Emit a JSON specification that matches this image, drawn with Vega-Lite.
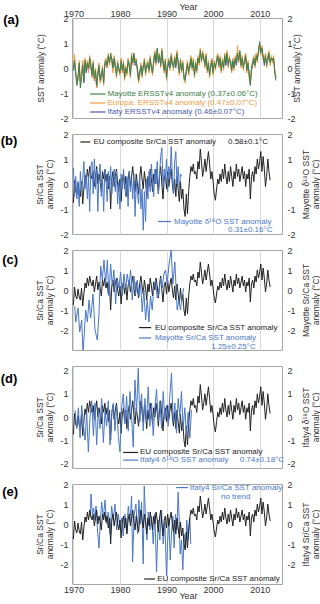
{
"$schema":"https://vega.github.io/schema/vega-lite/v6.json",
"padding":{"left":0,"top":1,"right":0,"bottom":0},
"background":"white",
"spacing":16,
"bounds":"flush",
"datasets":{
"ersst":[
{"t":1970,"m":-0.1,"e":0.1,"i":0.0},{"t":1970.25,"m":0.3,"e":0.55,"i":0.2},{"t":1970.5,"m":-0.2,"e":-0.1,"i":-0.3},{"t":1970.75,"m":-0.7,"e":-0.6,"i":-0.5},
{"t":1971,"m":-0.3,"e":-0.5,"i":-0.4},{"t":1971.25,"m":0.2,"e":0.3,"i":0.1},{"t":1971.5,"m":-0.8,"e":-0.7,"i":-0.6},{"t":1971.75,"m":-0.4,"e":-0.2,"i":-0.3},
{"t":1972,"m":0.1,"e":0.3,"i":0.2},{"t":1972.25,"m":-0.5,"e":-0.4,"i":-0.6},{"t":1972.5,"m":0.3,"e":0.4,"i":0.2},{"t":1972.75,"m":-0.1,"e":0.0,"i":-0.2},
{"t":1973,"m":0.2,"e":0.3,"i":0.1},{"t":1973.25,"m":0.0,"e":-0.2,"i":-0.1},{"t":1973.5,"m":0.4,"e":0.5,"i":0.3},{"t":1973.75,"m":0.1,"e":0.2,"i":0.0},
{"t":1974,"m":-0.3,"e":-0.4,"i":-0.2},{"t":1974.25,"m":0.2,"e":0.3,"i":0.1},{"t":1974.5,"m":-0.4,"e":-0.5,"i":-0.5},{"t":1974.75,"m":-0.1,"e":0.0,"i":-0.2},
{"t":1975,"m":-0.7,"e":-0.8,"i":-0.8},{"t":1975.25,"m":-0.2,"e":-0.1,"i":-0.3},{"t":1975.5,"m":0.1,"e":0.2,"i":0.0},{"t":1975.75,"m":-0.5,"e":-0.6,"i":-0.4},
{"t":1976,"m":-0.3,"e":-0.5,"i":-0.2},{"t":1976.25,"m":0.0,"e":0.1,"i":-0.1},{"t":1976.5,"m":-0.6,"e":-0.7,"i":-0.5},{"t":1976.75,"m":0.2,"e":0.3,"i":0.1},
{"t":1977,"m":0.3,"e":0.4,"i":0.2},{"t":1977.25,"m":0.1,"e":0.0,"i":0.0},{"t":1977.5,"m":0.5,"e":0.6,"i":0.4},{"t":1977.75,"m":0.2,"e":0.1,"i":0.3},
{"t":1978,"m":0.6,"e":0.5,"i":0.5},{"t":1978.25,"m":0.3,"e":0.2,"i":0.4},{"t":1978.5,"m":0.0,"e":-0.2,"i":0.1},{"t":1978.75,"m":0.4,"e":0.5,"i":0.3},
{"t":1979,"m":0.1,"e":0.2,"i":0.0},{"t":1979.25,"m":-0.3,"e":-0.4,"i":-0.2},{"t":1979.5,"m":0.2,"e":0.3,"i":0.1},{"t":1979.75,"m":0.0,"e":-0.1,"i":-0.1},
{"t":1980,"m":-0.2,"e":-0.3,"i":-0.1},{"t":1980.25,"m":0.3,"e":0.4,"i":0.2},{"t":1980.5,"m":-0.1,"e":-0.2,"i":0.0},{"t":1980.75,"m":0.2,"e":0.3,"i":0.1},
{"t":1981,"m":-0.4,"e":-0.5,"i":-0.3},{"t":1981.25,"m":0.0,"e":0.1,"i":-0.1},{"t":1981.5,"m":-0.2,"e":-0.3,"i":-0.1},{"t":1981.75,"m":0.3,"e":0.4,"i":0.2},
{"t":1982,"m":0.1,"e":0.0,"i":0.2},{"t":1982.25,"m":-0.3,"e":-0.4,"i":-0.2},{"t":1982.5,"m":0.5,"e":0.6,"i":0.4},{"t":1982.75,"m":0.2,"e":0.1,"i":0.3},
{"t":1983,"m":0.6,"e":0.5,"i":0.5},{"t":1983.25,"m":0.2,"e":0.3,"i":0.1},{"t":1983.5,"m":0.3,"e":0.4,"i":0.2},{"t":1983.75,"m":-0.1,"e":-0.2,"i":0.0},
{"t":1984,"m":-0.5,"e":-0.6,"i":-0.4},{"t":1984.25,"m":-0.2,"e":-0.3,"i":-0.1},{"t":1984.5,"m":0.1,"e":0.2,"i":0.0},{"t":1984.75,"m":-0.3,"e":-0.4,"i":-0.2},
{"t":1985,"m":0.0,"e":0.1,"i":0.1},{"t":1985.25,"m":0.3,"e":0.4,"i":0.2},{"t":1985.5,"m":-0.2,"e":-0.3,"i":-0.1},{"t":1985.75,"m":0.1,"e":0.2,"i":0.0},
{"t":1986,"m":0.2,"e":0.3,"i":0.1},{"t":1986.25,"m":-0.1,"e":-0.2,"i":0.0},{"t":1986.5,"m":0.4,"e":0.5,"i":0.3},{"t":1986.75,"m":0.0,"e":-0.1,"i":0.1},
{"t":1987,"m":-0.2,"e":-0.3,"i":-0.1},{"t":1987.25,"m":0.3,"e":0.4,"i":0.2},{"t":1987.5,"m":0.6,"e":0.7,"i":0.5},{"t":1987.75,"m":0.2,"e":0.1,"i":0.3},
{"t":1988,"m":0.8,"e":0.7,"i":0.7},{"t":1988.25,"m":0.3,"e":0.4,"i":0.2},{"t":1988.5,"m":0.5,"e":0.6,"i":0.4},{"t":1988.75,"m":0.1,"e":0.0,"i":0.2},
{"t":1989,"m":0.7,"e":0.8,"i":0.6},{"t":1989.25,"m":0.2,"e":0.1,"i":0.3},{"t":1989.5,"m":-0.1,"e":-0.2,"i":0.0},{"t":1989.75,"m":0.3,"e":0.4,"i":0.2},
{"t":1990,"m":-0.4,"e":-0.5,"i":-0.3},{"t":1990.25,"m":0.1,"e":0.2,"i":0.0},{"t":1990.5,"m":0.3,"e":0.4,"i":0.2},{"t":1990.75,"m":0.0,"e":-0.1,"i":0.1},
{"t":1991,"m":0.5,"e":0.6,"i":0.4},{"t":1991.25,"m":0.2,"e":0.3,"i":0.1},{"t":1991.5,"m":0.0,"e":-0.1,"i":0.1},{"t":1991.75,"m":0.4,"e":0.5,"i":0.3},
{"t":1992,"m":0.1,"e":0.2,"i":0.0},{"t":1992.25,"m":0.6,"e":0.7,"i":0.5},{"t":1992.5,"m":0.2,"e":0.1,"i":0.3},{"t":1992.75,"m":-0.2,"e":-0.3,"i":-0.1},
{"t":1993,"m":0.3,"e":0.4,"i":0.2},{"t":1993.25,"m":-0.1,"e":-0.2,"i":0.0},{"t":1993.5,"m":0.2,"e":0.3,"i":0.1},{"t":1993.75,"m":-0.4,"e":-0.5,"i":-0.3},
{"t":1994,"m":-0.5,"e":-0.6,"i":-0.4},{"t":1994.25,"m":-0.1,"e":0.0,"i":-0.2},{"t":1994.5,"m":0.2,"e":0.3,"i":0.1},{"t":1994.75,"m":-0.2,"e":-0.3,"i":-0.1},
{"t":1995,"m":0.1,"e":0.2,"i":0.0},{"t":1995.25,"m":0.4,"e":0.5,"i":0.3},{"t":1995.5,"m":0.0,"e":-0.1,"i":0.1},{"t":1995.75,"m":0.3,"e":0.4,"i":0.2},
{"t":1996,"m":-0.3,"e":-0.4,"i":-0.2},{"t":1996.25,"m":0.2,"e":0.3,"i":0.1},{"t":1996.5,"m":-0.1,"e":-0.2,"i":0.0},{"t":1996.75,"m":0.4,"e":0.5,"i":0.3},
{"t":1997,"m":0.2,"e":0.1,"i":0.3},{"t":1997.25,"m":0.7,"e":0.8,"i":0.6},{"t":1997.5,"m":0.3,"e":0.2,"i":0.4},{"t":1997.75,"m":0.6,"e":0.7,"i":0.5},
{"t":1998,"m":0.4,"e":0.5,"i":0.3},{"t":1998.25,"m":0.1,"e":0.0,"i":0.2},{"t":1998.5,"m":0.5,"e":0.6,"i":0.4},{"t":1998.75,"m":-0.1,"e":-0.2,"i":0.0},
{"t":1999,"m":0.2,"e":0.3,"i":0.1},{"t":1999.25,"m":-0.3,"e":-0.4,"i":-0.2},{"t":1999.5,"m":0.1,"e":0.2,"i":0.0},{"t":1999.75,"m":0.3,"e":0.4,"i":0.2},
{"t":2000,"m":-0.2,"e":-0.3,"i":-0.1},{"t":2000.25,"m":0.2,"e":0.3,"i":0.1},{"t":2000.5,"m":0.0,"e":-0.1,"i":0.1},{"t":2000.75,"m":0.3,"e":0.4,"i":0.2},
{"t":2001,"m":0.5,"e":0.6,"i":0.4},{"t":2001.25,"m":0.1,"e":0.0,"i":0.2},{"t":2001.5,"m":0.4,"e":0.5,"i":0.3},{"t":2001.75,"m":-0.1,"e":-0.2,"i":0.0},
{"t":2002,"m":0.3,"e":0.4,"i":0.2},{"t":2002.25,"m":0.0,"e":-0.1,"i":0.1},{"t":2002.5,"m":0.5,"e":0.6,"i":0.4},{"t":2002.75,"m":0.2,"e":0.3,"i":0.1},
{"t":2003,"m":0.6,"e":0.7,"i":0.5},{"t":2003.25,"m":0.1,"e":0.0,"i":0.2},{"t":2003.5,"m":0.4,"e":0.5,"i":0.3},{"t":2003.75,"m":0.2,"e":0.1,"i":0.3},
{"t":2004,"m":-0.1,"e":-0.2,"i":0.0},{"t":2004.25,"m":0.3,"e":0.4,"i":0.2},{"t":2004.5,"m":0.0,"e":-0.1,"i":0.1},{"t":2004.75,"m":0.4,"e":0.5,"i":0.3},
{"t":2005,"m":0.2,"e":0.3,"i":0.1},{"t":2005.25,"m":0.6,"e":0.9,"i":0.5},{"t":2005.5,"m":0.3,"e":0.2,"i":0.4},{"t":2005.75,"m":0.7,"e":0.6,"i":0.6},
{"t":2006,"m":0.1,"e":0.0,"i":0.2},{"t":2006.25,"m":0.4,"e":0.5,"i":0.3},{"t":2006.5,"m":0.0,"e":-0.1,"i":0.1},{"t":2006.75,"m":0.3,"e":0.4,"i":0.2},
{"t":2007,"m":0.5,"e":0.6,"i":0.4},{"t":2007.25,"m":-0.1,"e":-0.2,"i":0.0},{"t":2007.5,"m":0.2,"e":0.3,"i":0.1},{"t":2007.75,"m":-0.3,"e":-0.4,"i":-0.2},
{"t":2008,"m":-0.7,"e":-0.6,"i":-0.6},{"t":2008.25,"m":0.0,"e":0.1,"i":-0.1},{"t":2008.5,"m":0.2,"e":0.3,"i":0.1},{"t":2008.75,"m":0.4,"e":0.5,"i":0.3},
{"t":2009,"m":0.1,"e":0.0,"i":0.2},{"t":2009.25,"m":0.5,"e":0.6,"i":0.4},{"t":2009.5,"m":0.3,"e":0.2,"i":0.4},{"t":2009.75,"m":0.7,"e":0.8,"i":0.6},
{"t":2010,"m":1.05,"e":0.95,"i":0.9},{"t":2010.25,"m":0.6,"e":0.5,"i":0.7},{"t":2010.5,"m":0.8,"e":0.9,"i":0.7},{"t":2010.75,"m":0.4,"e":0.3,"i":0.5},
{"t":2011,"m":0.2,"e":0.3,"i":0.1},{"t":2011.25,"m":0.5,"e":0.6,"i":0.4},{"t":2011.5,"m":0.1,"e":0.0,"i":0.2},{"t":2011.75,"m":0.4,"e":0.5,"i":0.3},
{"t":2012,"m":0.6,"e":0.7,"i":0.5},{"t":2012.25,"m":0.2,"e":0.1,"i":0.3},{"t":2012.5,"m":0.4,"e":0.5,"i":0.3},{"t":2012.75,"m":0.3,"e":0.2,"i":0.4},
{"t":2013,"m":0.4,"e":0.5,"i":0.3},{"t":2013.25,"m":-0.2,"e":-0.1,"i":-0.1},{"t":2013.5,"m":-0.5,"e":-0.3,"i":-0.4}
],
"eu":[
{"t":1970,"v":-0.75},{"t":1970.25,"v":0.15},{"t":1970.5,"v":-0.3},{"t":1970.75,"v":-0.45},
{"t":1971,"v":0.05},{"t":1971.25,"v":-0.35},{"t":1971.5,"v":-0.5},{"t":1971.75,"v":0.1},
{"t":1972,"v":-0.8},{"t":1972.25,"v":-0.2},{"t":1972.5,"v":0.35},{"t":1972.75,"v":0.1},
{"t":1973,"v":0.6},{"t":1973.25,"v":0.2},{"t":1973.5,"v":0.7},{"t":1973.75,"v":0.4},
{"t":1974,"v":0.2},{"t":1974.25,"v":0.5},{"t":1974.5,"v":-0.1},{"t":1974.75,"v":0.3},
{"t":1975,"v":0.7},{"t":1975.25,"v":0.0},{"t":1975.5,"v":0.4},{"t":1975.75,"v":0.1},
{"t":1976,"v":-0.3},{"t":1976.25,"v":0.5},{"t":1976.5,"v":0.2},{"t":1976.75,"v":0.6},
{"t":1977,"v":0.1},{"t":1977.25,"v":0.4},{"t":1977.5,"v":-0.2},{"t":1977.75,"v":0.3},
{"t":1978,"v":-1.0},{"t":1978.25,"v":0.2},{"t":1978.5,"v":0.5},{"t":1978.75,"v":-0.1},
{"t":1979,"v":0.3},{"t":1979.25,"v":0.6},{"t":1979.5,"v":0.0},{"t":1979.75,"v":-0.3},
{"t":1980,"v":0.2},{"t":1980.25,"v":-0.7},{"t":1980.5,"v":0.1},{"t":1980.75,"v":0.4},
{"t":1981,"v":-0.2},{"t":1981.25,"v":0.3},{"t":1981.5,"v":-0.5},{"t":1981.75,"v":0.2},
{"t":1982,"v":0.5},{"t":1982.25,"v":-0.1},{"t":1982.5,"v":0.3},{"t":1982.75,"v":0.7},
{"t":1983,"v":0.1},{"t":1983.25,"v":-0.3},{"t":1983.5,"v":0.4},{"t":1983.75,"v":0.0},
{"t":1984,"v":-0.4},{"t":1984.25,"v":0.3},{"t":1984.5,"v":0.7},{"t":1984.75,"v":0.2},
{"t":1985,"v":-0.2},{"t":1985.25,"v":0.5},{"t":1985.5,"v":0.1},{"t":1985.75,"v":-0.5},
{"t":1986,"v":0.3},{"t":1986.25,"v":-0.1},{"t":1986.5,"v":0.6},{"t":1986.75,"v":0.2},
{"t":1987,"v":-0.3},{"t":1987.25,"v":0.4},{"t":1987.5,"v":0.0},{"t":1987.75,"v":0.6},
{"t":1988,"v":0.2},{"t":1988.25,"v":-0.4},{"t":1988.5,"v":0.3},{"t":1988.75,"v":0.7},
{"t":1989,"v":0.0},{"t":1989.25,"v":-0.6},{"t":1989.5,"v":0.2},{"t":1989.75,"v":0.4},
{"t":1990,"v":-0.2},{"t":1990.25,"v":0.5},{"t":1990.5,"v":-0.1},{"t":1990.75,"v":0.3},
{"t":1991,"v":0.6},{"t":1991.25,"v":0.0},{"t":1991.5,"v":-0.4},{"t":1991.75,"v":0.2},
{"t":1992,"v":-0.5},{"t":1992.25,"v":0.3},{"t":1992.5,"v":-0.2},{"t":1992.75,"v":-0.7},
{"t":1993,"v":0.1},{"t":1993.25,"v":-0.6},{"t":1993.5,"v":-0.2},{"t":1993.75,"v":-1.0},
{"t":1994,"v":-1.3},{"t":1994.25,"v":-0.4},{"t":1994.5,"v":-1.2},{"t":1994.75,"v":-0.3},
{"t":1995,"v":0.3},{"t":1995.25,"v":0.7},{"t":1995.5,"v":0.5},{"t":1995.75,"v":0.8},
{"t":1996,"v":0.4},{"t":1996.25,"v":0.5},{"t":1996.5,"v":0.2},{"t":1996.75,"v":0.9},
{"t":1997,"v":0.6},{"t":1997.25,"v":1.4},{"t":1997.5,"v":0.9},{"t":1997.75,"v":0.3},
{"t":1998,"v":0.6},{"t":1998.25,"v":1.0},{"t":1998.5,"v":0.5},{"t":1998.75,"v":0.9},
{"t":1999,"v":1.3},{"t":1999.25,"v":0.8},{"t":1999.5,"v":0.2},{"t":1999.75,"v":0.5},
{"t":2000,"v":0.1},{"t":2000.25,"v":-0.4},{"t":2000.5,"v":-0.65},{"t":2000.75,"v":-0.2},
{"t":2001,"v":0.2},{"t":2001.25,"v":0.0},{"t":2001.5,"v":0.4},{"t":2001.75,"v":0.1},
{"t":2002,"v":0.6},{"t":2002.25,"v":0.2},{"t":2002.5,"v":0.8},{"t":2002.75,"v":0.3},
{"t":2003,"v":0.0},{"t":2003.25,"v":0.5},{"t":2003.5,"v":0.1},{"t":2003.75,"v":0.7},
{"t":2004,"v":0.3},{"t":2004.25,"v":-0.1},{"t":2004.5,"v":0.5},{"t":2004.75,"v":0.2},
{"t":2005,"v":0.8},{"t":2005.25,"v":0.3},{"t":2005.5,"v":0.6},{"t":2005.75,"v":0.1},
{"t":2006,"v":0.4},{"t":2006.25,"v":0.7},{"t":2006.5,"v":0.2},{"t":2006.75,"v":0.5},
{"t":2007,"v":-0.1},{"t":2007.25,"v":0.4},{"t":2007.5,"v":0.2},{"t":2007.75,"v":0.6},
{"t":2008,"v":-0.6},{"t":2008.25,"v":0.3},{"t":2008.5,"v":0.5},{"t":2008.75,"v":0.1},
{"t":2009,"v":0.7},{"t":2009.25,"v":0.4},{"t":2009.5,"v":1.0},{"t":2009.75,"v":0.6},
{"t":2010,"v":0.9},{"t":2010.25,"v":1.3},{"t":2010.5,"v":0.5},{"t":2010.75,"v":1.1},
{"t":2011,"v":0.6},{"t":2011.25,"v":-0.1},{"t":2011.5,"v":0.3},{"t":2011.75,"v":1.0},
{"t":2012,"v":0.5},{"t":2012.25,"v":0.15}
],
"mayO":[
{"t":1970,"v":0.65},{"t":1970.25,"v":-0.5},{"t":1970.5,"v":0.3},{"t":1970.75,"v":-0.6},
{"t":1971,"v":0.1},{"t":1971.25,"v":-0.9},{"t":1971.5,"v":0.5},{"t":1971.75,"v":-0.3},
{"t":1972,"v":0.2},{"t":1972.25,"v":0.9},{"t":1972.5,"v":-0.2},{"t":1972.75,"v":0.4},
{"t":1973,"v":-0.6},{"t":1973.25,"v":0.3},{"t":1973.5,"v":-1.1},{"t":1973.75,"v":0.7},
{"t":1974,"v":0.9},{"t":1974.25,"v":-0.4},{"t":1974.5,"v":1.0},{"t":1974.75,"v":-0.2},
{"t":1975,"v":0.6},{"t":1975.25,"v":-1.1},{"t":1975.5,"v":0.4},{"t":1975.75,"v":0.8},
{"t":1976,"v":-0.5},{"t":1976.25,"v":0.2},{"t":1976.5,"v":-1.1},{"t":1976.75,"v":0.6},
{"t":1977,"v":0.3},{"t":1977.25,"v":-0.7},{"t":1977.5,"v":0.5},{"t":1977.75,"v":-0.2},
{"t":1978,"v":0.7},{"t":1978.25,"v":-0.4},{"t":1978.5,"v":0.2},{"t":1978.75,"v":0.6},
{"t":1979,"v":-0.3},{"t":1979.25,"v":0.5},{"t":1979.5,"v":-0.8},{"t":1979.75,"v":0.1},
{"t":1980,"v":-1.0},{"t":1980.25,"v":0.4},{"t":1980.5,"v":-0.2},{"t":1980.75,"v":0.6},
{"t":1981,"v":0.0},{"t":1981.25,"v":-0.5},{"t":1981.5,"v":0.3},{"t":1981.75,"v":-0.9},
{"t":1982,"v":0.5},{"t":1982.25,"v":-0.3},{"t":1982.5,"v":0.2},{"t":1982.75,"v":-0.6},
{"t":1983,"v":0.4},{"t":1983.25,"v":-1.3},{"t":1983.5,"v":0.1},{"t":1983.75,"v":-0.4},
{"t":1984,"v":-0.8},{"t":1984.25,"v":0.3},{"t":1984.5,"v":-1.0},{"t":1984.75,"v":-0.2},
{"t":1985,"v":-1.85},{"t":1985.25,"v":-0.3},{"t":1985.5,"v":-1.5},{"t":1985.75,"v":0.2},
{"t":1986,"v":-0.6},{"t":1986.25,"v":0.5},{"t":1986.5,"v":-0.3},{"t":1986.75,"v":0.8},
{"t":1987,"v":0.1},{"t":1987.25,"v":-0.5},{"t":1987.5,"v":0.6},{"t":1987.75,"v":0.0},
{"t":1988,"v":0.9},{"t":1988.25,"v":-0.4},{"t":1988.5,"v":0.4},{"t":1988.75,"v":1.1},
{"t":1989,"v":1.45},{"t":1989.25,"v":-0.1},{"t":1989.5,"v":0.6},{"t":1989.75,"v":0.2},
{"t":1990,"v":1.0},{"t":1990.25,"v":-0.3},{"t":1990.5,"v":0.7},{"t":1990.75,"v":0.2},
{"t":1991,"v":1.5},{"t":1991.25,"v":0.3},{"t":1991.5,"v":-0.4},{"t":1991.75,"v":0.9},
{"t":1992,"v":1.3},{"t":1992.25,"v":0.0},{"t":1992.5,"v":0.7},{"t":1992.75,"v":-0.2},
{"t":1993,"v":0.4},{"t":1993.25,"v":0.3}
],
"maySr":[
{"t":1970.29,"v":-0.8},{"t":1970.5,"v":-1.6},{"t":1971.0,"v":-0.9},{"t":1971.36,"v":-2.1},{"t":1971.79,"v":-1.5},{"t":1972.07,"v":-3.2},{"t":1972.64,"v":-1.0},{"t":1973.0,"v":-1.6},{"t":1973.36,"v":-0.5},{"t":1973.71,"v":-1.4},{"t":1974.21,"v":-0.2},{"t":1974.64,"v":-2.0},{"t":1975.14,"v":-2.5},{"t":1975.5,"v":-1.2},{"t":1975.86,"v":1.2},{"t":1976.21,"v":0.5},{"t":1976.57,"v":1.5},{"t":1976.93,"v":0.3},{"t":1977.29,"v":1.5},{"t":1977.64,"v":-0.3},{"t":1978.0,"v":1.3},{"t":1978.36,"v":0.2},{"t":1978.71,"v":1.0},{"t":1979.07,"v":-0.7},{"t":1979.43,"v":0.6},{"t":1979.79,"v":0.1},{"t":1980.14,"v":0.9},{"t":1980.5,"v":-0.3},{"t":1980.86,"v":0.8},{"t":1981.21,"v":0.1},{"t":1981.57,"v":0.8},{"t":1981.93,"v":0.2},{"t":1982.29,"v":1.0},{"t":1982.64,"v":-0.5},{"t":1983.0,"v":0.7},{"t":1983.36,"v":-0.2},{"t":1983.71,"v":0.5},{"t":1984.07,"v":-0.3},{"t":1984.43,"v":0.3},{"t":1984.79,"v":-1.1},{"t":1985.14,"v":0.0},{"t":1985.5,"v":-1.5},{"t":1985.86,"v":-0.5},{"t":1986.21,"v":-1.6},{"t":1986.57,"v":-0.3},{"t":1986.93,"v":-1.0},{"t":1987.29,"v":0.2},{"t":1987.64,"v":0.5},{"t":1988.0,"v":-0.4},{"t":1988.36,"v":-0.2},{"t":1988.71,"v":0.6},{"t":1989.07,"v":0.1},{"t":1989.43,"v":0.8},{"t":1989.79,"v":1.0},{"t":1990.14,"v":0.3},{"t":1990.5,"v":1.2},{"t":1991.0,"v":2.0},{"t":1991.36,"v":0.3},{"t":1991.79,"v":1.4},{"t":1992.29,"v":-1.0},{"t":1992.64,"v":-0.5},{"t":1993.0,"v":-1.0},{"t":1993.36,"v":-0.3},{"t":1993.71,"v":0.1}
],
"ifO":[
{"t":1970.36,"v":0.3},{"t":1970.71,"v":-0.5},{"t":1971.07,"v":0.4},{"t":1971.43,"v":-0.9},{"t":1971.79,"v":0.5},{"t":1972.14,"v":-0.3},{"t":1972.5,"v":-1.0},{"t":1972.86,"v":0.2},{"t":1973.21,"v":-1.5},{"t":1973.57,"v":0.0},{"t":1973.93,"v":0.7},{"t":1974.29,"v":-0.8},{"t":1974.64,"v":0.6},{"t":1975.0,"v":-1.2},{"t":1975.36,"v":0.3},{"t":1975.71,"v":-0.5},{"t":1976.07,"v":0.8},{"t":1976.43,"v":-1.1},{"t":1976.79,"v":0.2},{"t":1977.14,"v":-0.4},{"t":1977.5,"v":0.7},{"t":1977.86,"v":-1.2},{"t":1978.21,"v":0.1},{"t":1978.57,"v":0.6},{"t":1978.93,"v":-0.6},{"t":1979.29,"v":0.5},{"t":1979.64,"v":-0.8},{"t":1980.0,"v":-1.5},{"t":1980.36,"v":0.4},{"t":1980.71,"v":1.0},{"t":1981.07,"v":-0.3},{"t":1981.43,"v":0.9},{"t":1981.79,"v":-0.6},{"t":1982.14,"v":1.1},{"t":1982.5,"v":0.0},{"t":1982.86,"v":-1.3},{"t":1983.21,"v":1.6},{"t":1983.57,"v":0.2},{"t":1983.93,"v":2.1},{"t":1984.29,"v":-0.2},{"t":1984.64,"v":1.0},{"t":1985.0,"v":-0.6},{"t":1985.36,"v":0.8},{"t":1985.71,"v":-0.2},{"t":1986.07,"v":1.3},{"t":1986.43,"v":-0.4},{"t":1986.79,"v":0.6},{"t":1987.14,"v":-0.8},{"t":1987.5,"v":0.4},{"t":1987.86,"v":1.2},{"t":1988.21,"v":-0.2},{"t":1988.57,"v":0.7},{"t":1988.93,"v":-0.5},{"t":1989.29,"v":1.1},{"t":1989.64,"v":-0.1},{"t":1990.0,"v":0.5},{"t":1990.36,"v":-0.4},{"t":1990.71,"v":0.9},{"t":1991.07,"v":1.9},{"t":1991.43,"v":-0.2},{"t":1991.79,"v":0.6},{"t":1992.14,"v":-0.7},{"t":1992.5,"v":0.8},{"t":1992.86,"v":0.0},{"t":1993.21,"v":1.1},{"t":1993.57,"v":-0.5},{"t":1993.93,"v":0.4},{"t":1994.29,"v":-0.8},{"t":1994.64,"v":0.2},{"t":1995.0,"v":-0.9},{"t":1995.36,"v":0.3}
],
"ifSr":[
{"t":1973.57,"v":0.3},{"t":1973.79,"v":1.5},{"t":1974.07,"v":0.5},{"t":1974.36,"v":0.8},{"t":1974.64,"v":0.2},{"t":1974.86,"v":0.9},{"t":1975.21,"v":-0.4},{"t":1975.5,"v":-1.2},{"t":1975.79,"v":0.2},{"t":1976.07,"v":1.1},{"t":1976.43,"v":0.3},{"t":1976.79,"v":1.2},{"t":1977.14,"v":0.0},{"t":1977.5,"v":0.6},{"t":1977.86,"v":-0.5},{"t":1978.21,"v":0.9},{"t":1978.57,"v":0.2},{"t":1978.93,"v":1.0},{"t":1979.29,"v":-0.3},{"t":1979.64,"v":0.5},{"t":1980.0,"v":-0.2},{"t":1980.36,"v":0.3},{"t":1980.71,"v":-0.6},{"t":1981.07,"v":0.5},{"t":1981.43,"v":-0.4},{"t":1981.79,"v":0.9},{"t":1982.14,"v":0.1},{"t":1982.5,"v":1.4},{"t":1982.71,"v":-1.9},{"t":1983.07,"v":0.5},{"t":1983.43,"v":1.0},{"t":1983.79,"v":-0.5},{"t":1984.07,"v":1.2},{"t":1984.36,"v":0.0},{"t":1984.64,"v":1.1},{"t":1985.0,"v":-2.0},{"t":1985.21,"v":1.9},{"t":1985.5,"v":0.3},{"t":1985.79,"v":-0.8},{"t":1986.07,"v":0.6},{"t":1986.43,"v":-0.3},{"t":1986.79,"v":0.4},{"t":1987.14,"v":-1.0},{"t":1987.5,"v":0.5},{"t":1987.86,"v":-2.4},{"t":1988.21,"v":0.2},{"t":1988.57,"v":-0.8},{"t":1988.93,"v":0.7},{"t":1989.29,"v":-1.0},{"t":1989.64,"v":0.1},{"t":1990.0,"v":-2.6},{"t":1990.21,"v":-1.0},{"t":1990.5,"v":0.3},{"t":1990.79,"v":-1.8},{"t":1991.07,"v":-0.5},{"t":1991.36,"v":0.4},{"t":1991.64,"v":-1.2},{"t":1991.93,"v":0.5},{"t":1992.21,"v":-0.3},{"t":1992.5,"v":1.6},{"t":1992.71,"v":0.3},{"t":1992.93,"v":-1.5},{"t":1993.21,"v":-0.8},{"t":1993.5,"v":-2.3},{"t":1993.79,"v":-0.5},{"t":1994.07,"v":-1.2},{"t":1994.36,"v":0.2},{"t":1994.64,"v":-0.8},{"t":1995.0,"v":0.3},{"t":1995.21,"v":-1.0}
]
},
"vconcat":[
{
"width":210,"height":100,
"title":{"text":"(a)","orient":"left","angle":0,"anchor":"end","frame":"group","align":"right","baseline":"top","fontSize":13,"fontWeight":"bold","offset":2,"dy":-4},
"encoding":{"x":{"field":"t","type":"quantitative","scale":{"domain":[1969.7,2014.8],"nice":false,"zero":false},"axis":{"orient":"top","values":[1970,1980,1990,2000,2010],"format":"d","grid":true,"gridColor":"#d9d9d9","title":"Year","titlePadding":-2,"labelPadding":0,"titleFontSize":9,"titleX":116}}},
"layer":[
{"mark":{"type":"rule","color":"#d9d9d9"},"encoding":{"x":null,"y":{"datum":0,"type":"quantitative","scale":{"domain":[-2,2],"nice":false},"axis":null}}},
{"data":{"name":"ersst"},"mark":{"type":"line","color":"#4a5bb0","strokeWidth":1},
 "encoding":{"y":{"field":"i","type":"quantitative","scale":{"domain":[-2,2],"nice":false},"axis":{"orient":"right","values":[-2,-1,0,1,2],"labelExpr":"replace(datum.label,'−','-')","title":"SST anomaly (°C)","titleAngle":270,"titlePadding":6,"labelPadding":5}}}},
{"data":{"name":"ersst"},"mark":{"type":"line","color":"#f39a44","strokeWidth":1},
 "encoding":{"y":{"field":"e","type":"quantitative","axis":null}}},
{"data":{"name":"ersst"},"mark":{"type":"line","color":"#3d8046","strokeWidth":1},
 "encoding":{"y":{"field":"m","type":"quantitative","axis":{"orient":"left","values":[-2,-1,0,1,2],"labelExpr":"replace(datum.label,'−','-')","title":"SST anomaly (°C)","titlePadding":14,"labelPadding":4}}}},
{"data":{"values":[
 {"k":"m","a":1973.6,"b":1976.9,"t":1977.3,"v":-1.04,"label":"Mayotte ERSSTv4 anomaly (0.37±0.06°C)"},
 {"k":"e","a":1973.6,"b":1976.9,"t":1977.3,"v":-1.4,"label":"Europa. ERSSTv4 anomaly (0.47±0.07°C)"},
 {"k":"i","a":1973.6,"b":1976.9,"t":1977.3,"v":-1.76,"label":"Ifaty ERSSTv4 anomaly (0.46±0.07°C)"}]},
 "layer":[
 {"mark":{"type":"rule","strokeWidth":1.2},"encoding":{"x":{"field":"a","type":"quantitative"},"x2":{"field":"b"},"y":{"field":"v","type":"quantitative","axis":null},"color":{"field":"k","type":"nominal","scale":{"domain":["m","e","i","eu","b"],"range":["#3d8046","#f39a44","#4a5bb0","#222222","#4a78c8"]},"legend":null}}},
 {"mark":{"type":"text","align":"left","baseline":"middle","fontSize":8},"encoding":{"y":{"field":"v","type":"quantitative","axis":null},"text":{"field":"label"},"color":{"field":"k","type":"nominal","scale":{"domain":["m","e","i","eu","b"],"range":["#3d8046","#f39a44","#4a5bb0","#222222","#4a78c8"]},"legend":null}}}
 ]}
],
"resolve":{"axis":{"y":"independent"}}
},
{
"width":210,"height":100,
"title":{"text":"(b)","orient":"left","angle":0,"anchor":"end","frame":"group","align":"right","baseline":"top","fontSize":13,"fontWeight":"bold","offset":2,"dy":1},
"encoding":{"x":{"field":"t","type":"quantitative","scale":{"domain":[1969.7,2014.8],"nice":false,"zero":false},"axis":{"values":[1970,1980,1990,2000,2010],"labels":false,"grid":true,"gridColor":"#d9d9d9","title":null}}},
"layer":[
{"mark":{"type":"rule","color":"#d9d9d9"},"encoding":{"x":null,"y":{"datum":0,"type":"quantitative","scale":{"domain":[-2,2],"nice":false},"axis":null}}},
{"data":{"name":"eu"},"mark":{"type":"line","color":"#222222","strokeWidth":1},
 "encoding":{"y":{"field":"v","type":"quantitative","scale":{"domain":[-2,2],"nice":false},"axis":{"orient":"left","values":[-2,-1,0,1,2],"labelExpr":"replace(datum.label,'−','-')","title":["Sr/Ca SST","anomaly (°C)"],"titlePadding":5,"labelPadding":4,"titleLineHeight":10}}}},
{"data":{"name":"mayO"},"mark":{"type":"line","color":"#4a78c8","strokeWidth":1},
 "encoding":{"y":{"field":"v","type":"quantitative","axis":{"orient":"right","values":[-2,-1,0,1,2],"labelExpr":"replace(datum.label,'−','-')","title":["Mayotte δ¹⁸O SST","anomaly (°C)"],"titleAngle":270,"titlePadding":5,"labelPadding":5,"titleLineHeight":10}}}},
{"data":{"values":[
 {"k":"eu","a":1971.5,"b":1973.6,"t":1974.3,"v":1.68,"label":"EU composite Sr/Ca SST anomaly"},
 {"k":"eu","t":2003.2,"v":1.68,"label":"0.58±0.1°C"},
 {"k":"b","a":1988.2,"b":1991,"t":1991.6,"v":-1.5,"label":"Mayotte δ¹⁸O SST anomaly"},
 {"k":"b","t":2003.2,"v":-1.83,"label":"0.31±0.16°C"}]},
 "layer":[
 {"mark":{"type":"rule","strokeWidth":1.2},"encoding":{"x":{"field":"a","type":"quantitative"},"x2":{"field":"b"},"y":{"field":"v","type":"quantitative","axis":null},"color":{"field":"k","type":"nominal","scale":{"domain":["m","e","i","eu","b"],"range":["#3d8046","#f39a44","#4a5bb0","#222222","#4a78c8"]},"legend":null}}},
 {"mark":{"type":"text","align":"left","baseline":"middle","fontSize":8},"encoding":{"y":{"field":"v","type":"quantitative","axis":null},"text":{"field":"label"},"color":{"field":"k","type":"nominal","scale":{"domain":["m","e","i","eu","b"],"range":["#3d8046","#f39a44","#4a5bb0","#222222","#4a78c8"]},"legend":null}}}
 ]}
],
"resolve":{"axis":{"y":"independent"}}
},
{
"width":210,"height":100,
"title":{"text":"(c)","orient":"left","angle":0,"anchor":"end","frame":"group","align":"right","baseline":"top","fontSize":13,"fontWeight":"bold","offset":2,"dy":4},
"encoding":{"x":{"field":"t","type":"quantitative","scale":{"domain":[1969.7,2014.8],"nice":false,"zero":false},"axis":{"values":[1970,1980,1990,2000,2010],"labels":false,"grid":true,"gridColor":"#d9d9d9","title":null}}},
"layer":[
{"mark":{"type":"rule","color":"#d9d9d9"},"encoding":{"x":null,"y":{"datum":0,"type":"quantitative","scale":{"domain":[-3,2],"nice":false},"axis":null}}},
{"data":{"name":"eu"},"mark":{"type":"line","color":"#222222","strokeWidth":1},
 "encoding":{"y":{"field":"v","type":"quantitative","scale":{"domain":[-3,2],"nice":false},"axis":{"orient":"left","values":[-2,-1,0,1,2],"labelExpr":"replace(datum.label,'−','-')","title":["Sr/Ca SST","anomaly (°C)"],"titlePadding":5,"labelPadding":4,"titleLineHeight":10}}}},
{"data":{"name":"maySr"},"mark":{"type":"line","color":"#4a78c8","strokeWidth":1,"clip":true},
 "encoding":{"y":{"field":"v","type":"quantitative","axis":{"orient":"right","values":[-2,-1,0,1,2],"labelExpr":"replace(datum.label,'−','-')","title":["Mayotte Sr/Ca SST","anomaly (°C)"],"titleAngle":270,"titlePadding":5,"labelPadding":5,"titleLineHeight":10}}}},
{"data":{"values":[
 {"k":"eu","a":1984.1,"b":1986.7,"t":1987.5,"v":-1.88,"label":"EU composite Sr/Ca SST anomaly"},
 {"k":"b","a":1984.1,"b":1986.7,"t":1987.5,"v":-2.4,"label":"Mayotte Sr/Ca SST anomaly"},
 {"k":"b","t":1999.6,"v":-2.84,"label":"1.25±0.25°C"}]},
 "layer":[
 {"mark":{"type":"rule","strokeWidth":1.2},"encoding":{"x":{"field":"a","type":"quantitative"},"x2":{"field":"b"},"y":{"field":"v","type":"quantitative","axis":null},"color":{"field":"k","type":"nominal","scale":{"domain":["m","e","i","eu","b"],"range":["#3d8046","#f39a44","#4a5bb0","#222222","#4a78c8"]},"legend":null}}},
 {"mark":{"type":"text","align":"left","baseline":"middle","fontSize":8},"encoding":{"y":{"field":"v","type":"quantitative","axis":null},"text":{"field":"label"},"color":{"field":"k","type":"nominal","scale":{"domain":["m","e","i","eu","b"],"range":["#3d8046","#f39a44","#4a5bb0","#222222","#4a78c8"]},"legend":null}}}
 ]}
],
"resolve":{"axis":{"y":"independent"}}
},
{
"width":210,"height":102,
"title":{"text":"(d)","orient":"left","angle":0,"anchor":"end","frame":"group","align":"right","baseline":"top","fontSize":13,"fontWeight":"bold","offset":2,"dy":7},
"encoding":{"x":{"field":"t","type":"quantitative","scale":{"domain":[1969.7,2014.8],"nice":false,"zero":false},"axis":{"values":[1970,1980,1990,2000,2010],"labels":false,"grid":true,"gridColor":"#d9d9d9","title":null}}},
"layer":[
{"mark":{"type":"rule","color":"#d9d9d9"},"encoding":{"x":null,"y":{"datum":0,"type":"quantitative","scale":{"domain":[-2.2,2.2],"nice":false},"axis":null}}},
{"data":{"name":"eu"},"mark":{"type":"line","color":"#222222","strokeWidth":1},
 "encoding":{"y":{"field":"v","type":"quantitative","scale":{"domain":[-2.2,2.2],"nice":false},"axis":{"orient":"left","values":[-2,-1,0,1,2],"labelExpr":"replace(datum.label,'−','-')","title":["Sr/Ca SST","anomaly (°C)"],"titlePadding":5,"labelPadding":4,"titleLineHeight":10}}}},
{"data":{"name":"ifO"},"mark":{"type":"line","color":"#4a78c8","strokeWidth":1},
 "encoding":{"y":{"field":"v","type":"quantitative","axis":{"orient":"right","values":[-2,-1,0,1,2],"labelExpr":"replace(datum.label,'−','-')","title":["Ifaty4 δ¹⁸O SST","anomaly (°C)"],"titleAngle":270,"titlePadding":5,"labelPadding":5,"titleLineHeight":10}}}},
{"data":{"values":[
 {"k":"eu","a":1980.7,"b":1983.9,"t":1984.3,"v":-1.53,"label":"EU composite Sr/Ca SST anomaly"},
 {"k":"b","a":1980.7,"b":1983.9,"t":1984.3,"v":-1.86,"label":"Ifaty4 δ¹⁸O  SST anomaly"},
 {"k":"b","t":2005.7,"v":-1.86,"label":"0.74±0.18°C"}]},
 "layer":[
 {"mark":{"type":"rule","strokeWidth":1.2},"encoding":{"x":{"field":"a","type":"quantitative"},"x2":{"field":"b"},"y":{"field":"v","type":"quantitative","axis":null},"color":{"field":"k","type":"nominal","scale":{"domain":["m","e","i","eu","b"],"range":["#3d8046","#f39a44","#4a5bb0","#222222","#4a78c8"]},"legend":null}}},
 {"mark":{"type":"text","align":"left","baseline":"middle","fontSize":8},"encoding":{"y":{"field":"v","type":"quantitative","axis":null},"text":{"field":"label"},"color":{"field":"k","type":"nominal","scale":{"domain":["m","e","i","eu","b"],"range":["#3d8046","#f39a44","#4a5bb0","#222222","#4a78c8"]},"legend":null}}}
 ]}
],
"resolve":{"axis":{"y":"independent"}}
},
{
"width":210,"height":100,
"title":{"text":"(e)","orient":"left","angle":0,"anchor":"end","frame":"group","align":"right","baseline":"top","fontSize":13,"fontWeight":"bold","offset":2,"dy":2},
"encoding":{"x":{"field":"t","type":"quantitative","scale":{"domain":[1969.7,2014.8],"nice":false,"zero":false},"axis":{"orient":"bottom","values":[1970,1980,1990,2000,2010],"format":"d","grid":true,"gridColor":"#d9d9d9","title":"Year","titlePadding":-3,"labelPadding":1,"titleFontSize":9,"titleX":116}}},
"layer":[
{"mark":{"type":"rule","color":"#d9d9d9"},"encoding":{"x":null,"y":{"datum":0,"type":"quantitative","scale":{"domain":[-3,2],"nice":false},"axis":null}}},
{"data":{"name":"ifSr"},"mark":{"type":"line","color":"#4a78c8","strokeWidth":1},
 "encoding":{"y":{"field":"v","type":"quantitative","scale":{"domain":[-3,2],"nice":false},"axis":{"orient":"right","values":[-2,-1,0,1,2],"labelExpr":"replace(datum.label,'−','-')","title":["Ifaty4 Sr/Ca SST","anomaly (°C)"],"titleAngle":270,"titlePadding":5,"labelPadding":5,"titleLineHeight":10}}}},
{"data":{"name":"eu"},"mark":{"type":"line","color":"#222222","strokeWidth":1},
 "encoding":{"y":{"field":"v","type":"quantitative","axis":{"orient":"left","values":[-2,-1,0,1,2],"labelExpr":"replace(datum.label,'−','-')","title":["Sr/Ca SST","anomaly (°C)"],"titlePadding":5,"labelPadding":4,"titleLineHeight":10}}}},
{"data":{"values":[
 {"k":"b","a":1992.1,"b":1994.6,"t":1995,"v":1.82,"label":"Ifaty4 Sr/Ca SST anomaly"},
 {"k":"b","t":2001.7,"v":1.37,"label":"no trend"},
 {"k":"eu","a":1985.2,"b":1987.5,"t":1988,"v":-2.75,"label":"EU composite Sr/Ca SST anomaly"}]},
 "layer":[
 {"mark":{"type":"rule","strokeWidth":1.2},"encoding":{"x":{"field":"a","type":"quantitative"},"x2":{"field":"b"},"y":{"field":"v","type":"quantitative","axis":null},"color":{"field":"k","type":"nominal","scale":{"domain":["m","e","i","eu","b"],"range":["#3d8046","#f39a44","#4a5bb0","#222222","#4a78c8"]},"legend":null}}},
 {"mark":{"type":"text","align":"left","baseline":"middle","fontSize":8},"encoding":{"y":{"field":"v","type":"quantitative","axis":null},"text":{"field":"label"},"color":{"field":"k","type":"nominal","scale":{"domain":["m","e","i","eu","b"],"range":["#3d8046","#f39a44","#4a5bb0","#222222","#4a78c8"]},"legend":null}}}
 ]}
],
"resolve":{"axis":{"y":"independent"}}
}
],
"resolve":{"scale":{"x":"independent","y":"independent","color":"independent"}},
"config":{
 "font":"Liberation Sans",
 "view":{"stroke":"#a6a6a6"},
 "axis":{"labelFont":"Liberation Sans","titleFont":"Liberation Sans","labelFontSize":9,"titleFontSize":8.5,"labelColor":"#333333","titleColor":"#333333","titleFontWeight":"normal","domain":false,"ticks":false,"grid":false},
 "title":{"font":"Liberation Sans","color":"#000000"}
}
}
